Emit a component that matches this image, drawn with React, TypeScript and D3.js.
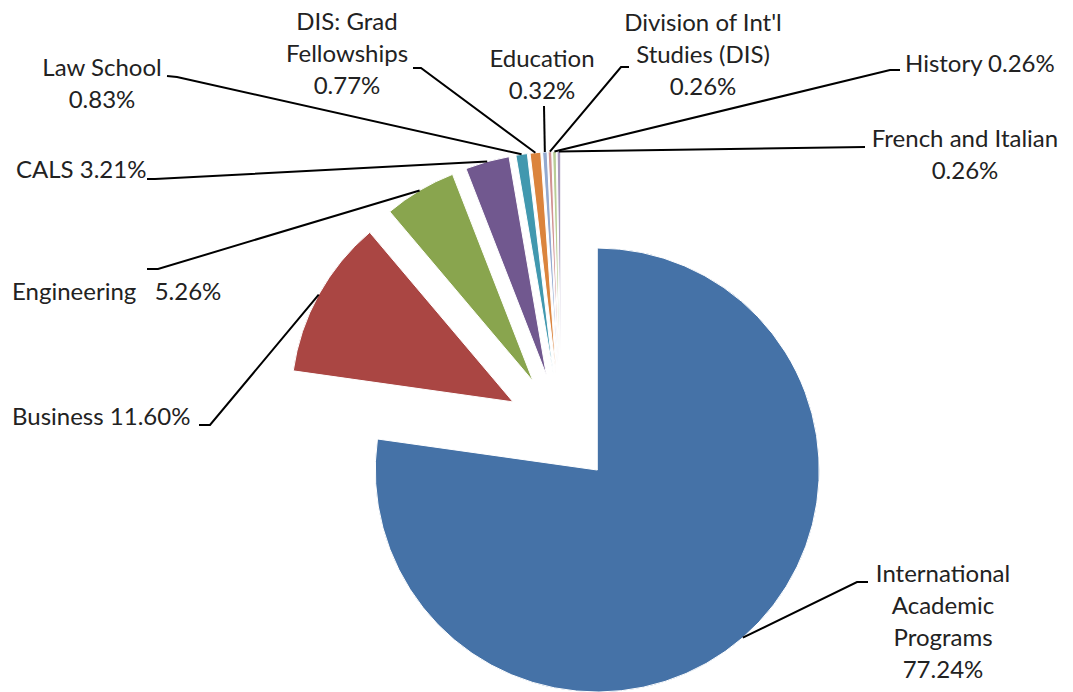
import React from "react";
import * as d3 from "d3";

const categories = [
  "International Academic Programs",
  "Business",
  "Engineering",
  "CALS",
  "Law School",
  "DIS: Grad Fellowships",
  "Education",
  "Division of Int'l Studies (DIS)",
  "History",
  "French and Italian",
];
const values = [77.24, 11.6, 5.26, 3.21, 0.83, 0.77, 0.32, 0.26, 0.26, 0.26];
const labelLines = [
  ["International", "Academic", "Programs", "77.24%"],
  ["Business 11.60%"],
  ["Engineering\u00a0\u00a0 5.26%"],
  ["CALS 3.21%"],
  ["Law School", "0.83%"],
  ["DIS: Grad", "Fellowships", "0.77%"],
  ["Education", "0.32%"],
  ["Division of Int'l", "Studies (DIS)", "0.26%"],
  ["History 0.26%"],
  ["French and Italian", "0.26%"],
];
const colors = [
  "#4572A7",
  "#AA4643",
  "#89A54E",
  "#71588F",
  "#4198AF",
  "#DB843D",
  "#93A9CF",
  "#D19392",
  "#B9CD96",
  "#A99BBD",
];

// layout (not data)
const W = 1073;
const H = 692;
const CX = 561.2;
const CY = 428.5;
const R = 222;
const EXPLODE = 55;
const LINE_H = 32;
const FONT = "Lato, 'Open Sans', sans-serif";
const FONT_SIZE = 24;

// label layout: text anchor x, first baseline y, text-anchor, leader tick points
const labelLayout: { x: number; y: number; anchor: string; tick: [number, number][] }[] = [
  { x: 943, y: 582, anchor: "middle", tick: [[868, 582], [857, 582]] },
  { x: 12, y: 425, anchor: "start", tick: [[199, 425], [210, 425]] },
  { x: 12, y: 300, anchor: "start", tick: [[147, 269], [158, 269]] },
  { x: 16, y: 178, anchor: "start", tick: [[147, 179], [155, 179]] },
  { x: 102, y: 76, anchor: "middle", tick: [[167, 76], [177, 77]] },
  { x: 347, y: 30, anchor: "middle", tick: [[413, 68], [421, 68]] },
  { x: 542, y: 67, anchor: "middle", tick: [[544, 106]] },
  { x: 703, y: 31, anchor: "middle", tick: [[629, 67], [621, 67]] },
  { x: 905, y: 72, anchor: "start", tick: [[900, 70], [890, 70]] },
  { x: 965, y: 147, anchor: "middle", tick: [[865, 147]] },
];

export default function App() {
  const data = categories.map((c, i) => ({ name: c, value: values[i], i }));
  const pie = d3
    .pie<{ name: string; value: number; i: number }>()
    .sort(null)
    .value((d) => d.value);
  const arcs = pie(data);
  const arcGen = d3
    .arc<d3.PieArcDatum<{ name: string; value: number; i: number }>>()
    .innerRadius(0)
    .outerRadius(R);

  return (
    <svg width={W} height={H} style={{ position: "absolute", left: 0, top: 0 }}>
      <rect width={W} height={H} fill="#fff" />
      <g transform={`translate(${CX},${CY})`}>
        {arcs.map((a) => {
          const mid = (a.startAngle + a.endAngle) / 2;
          const dx = Math.sin(mid) * EXPLODE;
          const dy = -Math.cos(mid) * EXPLODE;
          return (
            <path
              key={a.data.name}
              d={arcGen(a) || ""}
              transform={`translate(${dx},${dy})`}
              fill={colors[a.data.i]}
              stroke="#fff"
              strokeWidth={1}
              strokeLinejoin="round"
            />
          );
        })}
      </g>
      {arcs.map((a, i) => {
        const mid = (a.startAngle + a.endAngle) / 2;
        const ex = CX + Math.sin(mid) * (EXPLODE + R);
        const ey = CY - Math.cos(mid) * (EXPLODE + R);
        const L = labelLayout[i];
        const pts = [...L.tick, [ex, ey] as [number, number]];
        const line = d3.line()(pts) || "";
        return (
          <g key={"lab" + i}>
            <path d={line} fill="none" stroke="#000" strokeWidth={2} />
            <text
              x={L.x}
              y={L.y}
              textAnchor={L.anchor}
              fontFamily={FONT}
              fontSize={FONT_SIZE}
              fill="#222"
            >
              {labelLines[i].map((t, j) => (
                <tspan key={j} x={L.x} y={L.y + j * LINE_H}>
                  {t}
                </tspan>
              ))}
            </text>
          </g>
        );
      })}
    </svg>
  );
}
